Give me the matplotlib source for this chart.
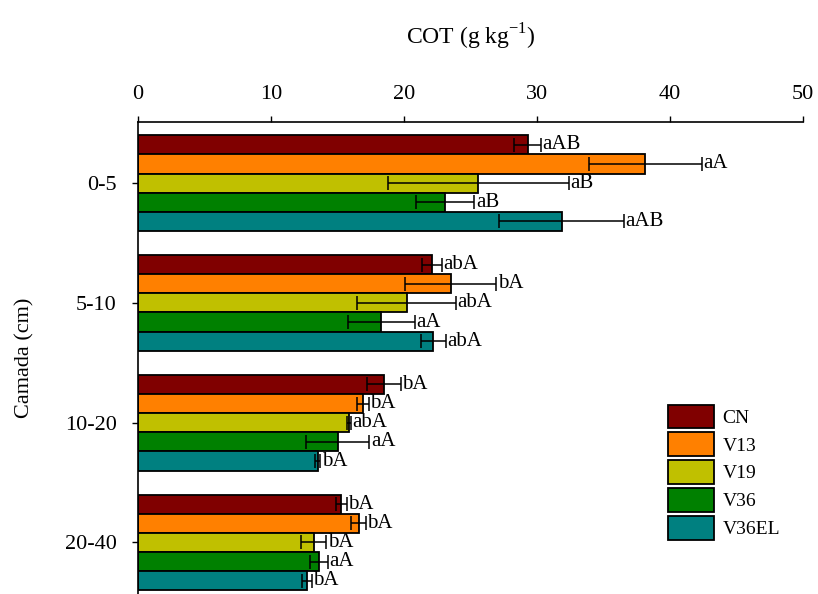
import matplotlib.pyplot as plt
import numpy as np

plt.rcParams['font.family'] = ['Liberation Serif', 'DejaVu Serif']
plt.rcParams['mathtext.fontset'] = 'custom'
plt.rcParams['mathtext.rm'] = 'Liberation Serif'

camadas = ['0-5', '5-10', '10-20', '20-40']
tratamentos = ['CN', 'V13', 'V19', 'V36', 'V36EL']
cores = ['#800000', '#FF8000', '#C0C000', '#008000', '#008080']

# COT (g kg-1) por camada, uma lista por tratamento
cot = {
    'CN':    [29.3, 22.1, 18.5, 15.3],
    'V13':   [38.15, 23.5, 16.9, 16.6],
    'V19':   [25.6, 20.2, 15.85, 13.2],
    'V36':   [23.1, 18.3, 15.0, 13.6],
    'V36EL': [31.85, 22.2, 13.5, 12.7],
}
erro = {
    'CN':    [1.0, 0.75, 1.25, 0.4],
    'V13':   [4.25, 3.45, 0.45, 0.55],
    'V19':   [6.8, 3.7, 0.15, 0.95],
    'V36':   [2.2, 2.5, 2.4, 0.7],
    'V36EL': [4.7, 0.95, 0.2, 0.35],
}
letras = {
    'CN':    ['aAB', 'abA', 'bA', 'bA'],
    'V13':   ['aA', 'bA', 'bA', 'bA'],
    'V19':   ['aB', 'abA', 'abA', 'bA'],
    'V36':   ['aB', 'aA', 'aA', 'aA'],
    'V36EL': ['aAB', 'abA', 'bA', 'bA'],
}

fig = plt.figure(figsize=(8.18, 5.94), dpi=100)
ax = fig.add_axes([138/818, 0.0, 665/818, 472/594])

y = np.arange(len(camadas))
h = 0.8 / len(tratamentos)
for i, t in enumerate(tratamentos):
    pos = y - 0.4 + h/2 + i*h
    ax.barh(pos, cot[t], height=h, color=cores[i], edgecolor='black',
            linewidth=1.3, label=t, zorder=2)
    ax.errorbar(cot[t], pos, xerr=erro[t], fmt='none', ecolor='black',
                elinewidth=1.1, capsize=5, capthick=1.1, zorder=3)
    for v, e, p, l in zip(cot[t], erro[t], pos, letras[t]):
        ax.text(v + e + 0.1, p, l, va='center', ha='left', fontsize=15)

ax.set_xlim(0, 50)
ax.set_ylim(3.43, -0.51)
ax.xaxis.tick_top()
ax.xaxis.set_label_position('top')
ax.set_xticks([0, 10, 20, 30, 40, 50])
ax.set_yticks(y)
ax.set_yticklabels(camadas)
ax.tick_params(axis='both', direction='out', length=4.3, width=1, labelsize=16)
ax.tick_params(axis='x', pad=8.5)
ax.tick_params(axis='y', pad=11)
ax.spines['right'].set_visible(False)
ax.spines['bottom'].set_visible(False)
ax.spines['top'].set_linewidth(1.2)
ax.spines['left'].set_linewidth(1.2)

ax.set_xlabel(r'COT (g kg$^{\mathregular{-1}}$)', fontsize=17, labelpad=29)
ax.set_ylabel('Camada (cm)', fontsize=16, labelpad=22)

ax.legend(loc='upper left', bbox_to_anchor=(650/818, 1 - 387/594),
          bbox_transform=fig.transFigure, frameon=False, fontsize=14,
          handlelength=2.37, handleheight=1.49, labelspacing=0.22,
          handletextpad=0.45)

fig.savefig('out.png', dpi=100)
